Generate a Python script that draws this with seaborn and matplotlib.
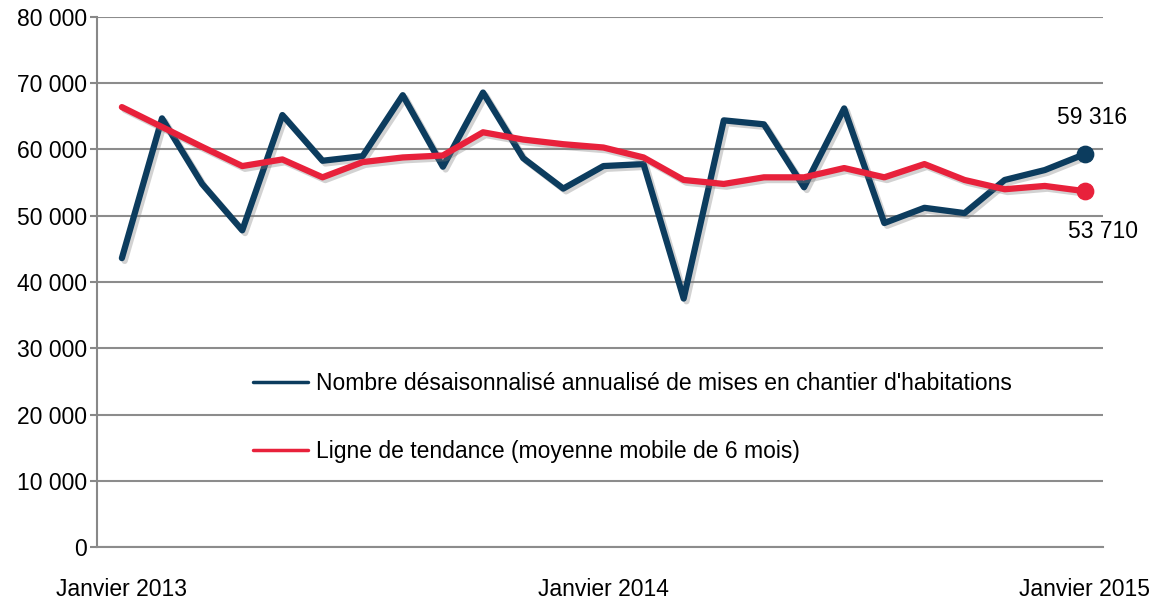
import matplotlib
matplotlib.use("Agg")
import matplotlib.pyplot as plt
import matplotlib.patheffects as pe
import seaborn as sns
import pandas as pd

# données (mises en chantier, janvier 2013 -> janvier 2015)
mois = list(range(25))
mises_en_chantier = [43600, 64700, 54800, 47800, 65200, 58300, 59000, 68200, 57400,
                     68600, 58700, 54100, 57500, 57800, 37500, 64400, 63800, 54300,
                     66200, 48900, 51200, 50400, 55400, 56900, 59316]
tendance = [66400, 63400, 60400, 57500, 58500, 55800, 58100, 58800, 59100, 62600,
            61500, 60800, 60300, 58800, 55400, 54800, 55800, 55800, 57200, 55800,
            57800, 55400, 54000, 54500, 53710]
etiquettes_x = ["Janvier 2013", "Janvier 2014", "Janvier 2015"]
positions_x = [0, 12, 24]
ticks_y = list(range(0, 80001, 10000))

nom_serie1 = "Nombre désaisonnalisé annualisé de mises en chantier d'habitations"
nom_serie2 = "Ligne de tendance (moyenne mobile de 6 mois)"

df = pd.DataFrame({"mois": mois, "serie1": mises_en_chantier, "serie2": tendance})

bleu = "#0c3c5e"
rouge = "#e8213b"

sns.set_style("white")
plt.rcParams["font.family"] = ["Liberation Sans Narrow", "Liberation Sans", "DejaVu Sans"]
plt.rcParams["text.color"] = "black"
plt.rcParams["xtick.color"] = "black"
plt.rcParams["ytick.color"] = "black"
taille = 16.5

fig = plt.figure(figsize=(11.57, 6.05), dpi=100)
ax = fig.add_axes([97 / 1157, 1 - 547 / 605, (1103 - 97) / 1157, (547 - 17) / 605])

ombre = [pe.SimpleLineShadow(offset=(2, -2), shadow_color="gray", alpha=0.35), pe.Normal()]

sns.lineplot(data=df, x="mois", y="serie1", ax=ax, color=bleu, linewidth=4.5,
             label=nom_serie1, path_effects=ombre)
sns.lineplot(data=df, x="mois", y="serie2", ax=ax, color=rouge, linewidth=4.5,
             label=nom_serie2, path_effects=ombre)

# points de fin
sns.scatterplot(x=[mois[-1]], y=[mises_en_chantier[-1]], ax=ax, color=bleu, s=140,
                edgecolor=bleu, zorder=5, legend=False)
sns.scatterplot(x=[mois[-1]], y=[tendance[-1]], ax=ax, color=rouge, s=140,
                edgecolor=rouge, zorder=5, legend=False)

def fmt(v):
    return f"{v:,}".replace(",", " ")

ax.annotate(fmt(mises_en_chantier[-1]), (mois[-1], mises_en_chantier[-1]),
            xytext=(5, 26), textcoords="offset points", ha="center", va="center", fontsize=taille)
ax.annotate(fmt(tendance[-1]), (mois[-1], tendance[-1]),
            xytext=(13, -29), textcoords="offset points", ha="center", va="center", fontsize=taille)

ax.set_xlim(-0.62, 24.45)
ax.set_ylim(0, 80000)
ax.set_yticks(ticks_y)
ax.set_yticklabels([fmt(v) for v in ticks_y], fontsize=taille)
ax.set_xticks(positions_x)
ax.set_xticklabels(etiquettes_x, fontsize=taille)
ax.tick_params(axis="x", length=0, pad=22)
ax.tick_params(axis="y", length=5, width=1.5, color="#888888", pad=2, left=True)
ax.set_xlabel("")
ax.set_ylabel("")

ax.grid(axis="y", color="#8c8c8c", linewidth=1.5)
ax.set_axisbelow(True)
for cote in ["top", "right"]:
    ax.spines[cote].set_visible(False)
ax.spines["left"].set_color("#888888")
ax.spines["left"].set_linewidth(1.5)
ax.spines["bottom"].set_color("#8c8c8c")
ax.spines["bottom"].set_linewidth(1.5)

leg = ax.legend(loc="upper left", bbox_to_anchor=(253 / 1157, 1 - 372 / 605),
                bbox_transform=fig.transFigure, frameon=False, fontsize=taille,
                handlelength=2.4, handletextpad=0.35, labelspacing=1.95,
                borderpad=0, borderaxespad=0)
for ligne in leg.get_lines():
    ligne.set_linewidth(2.5)
    ligne.set_path_effects([])

fig.savefig("out.png", dpi=100)
